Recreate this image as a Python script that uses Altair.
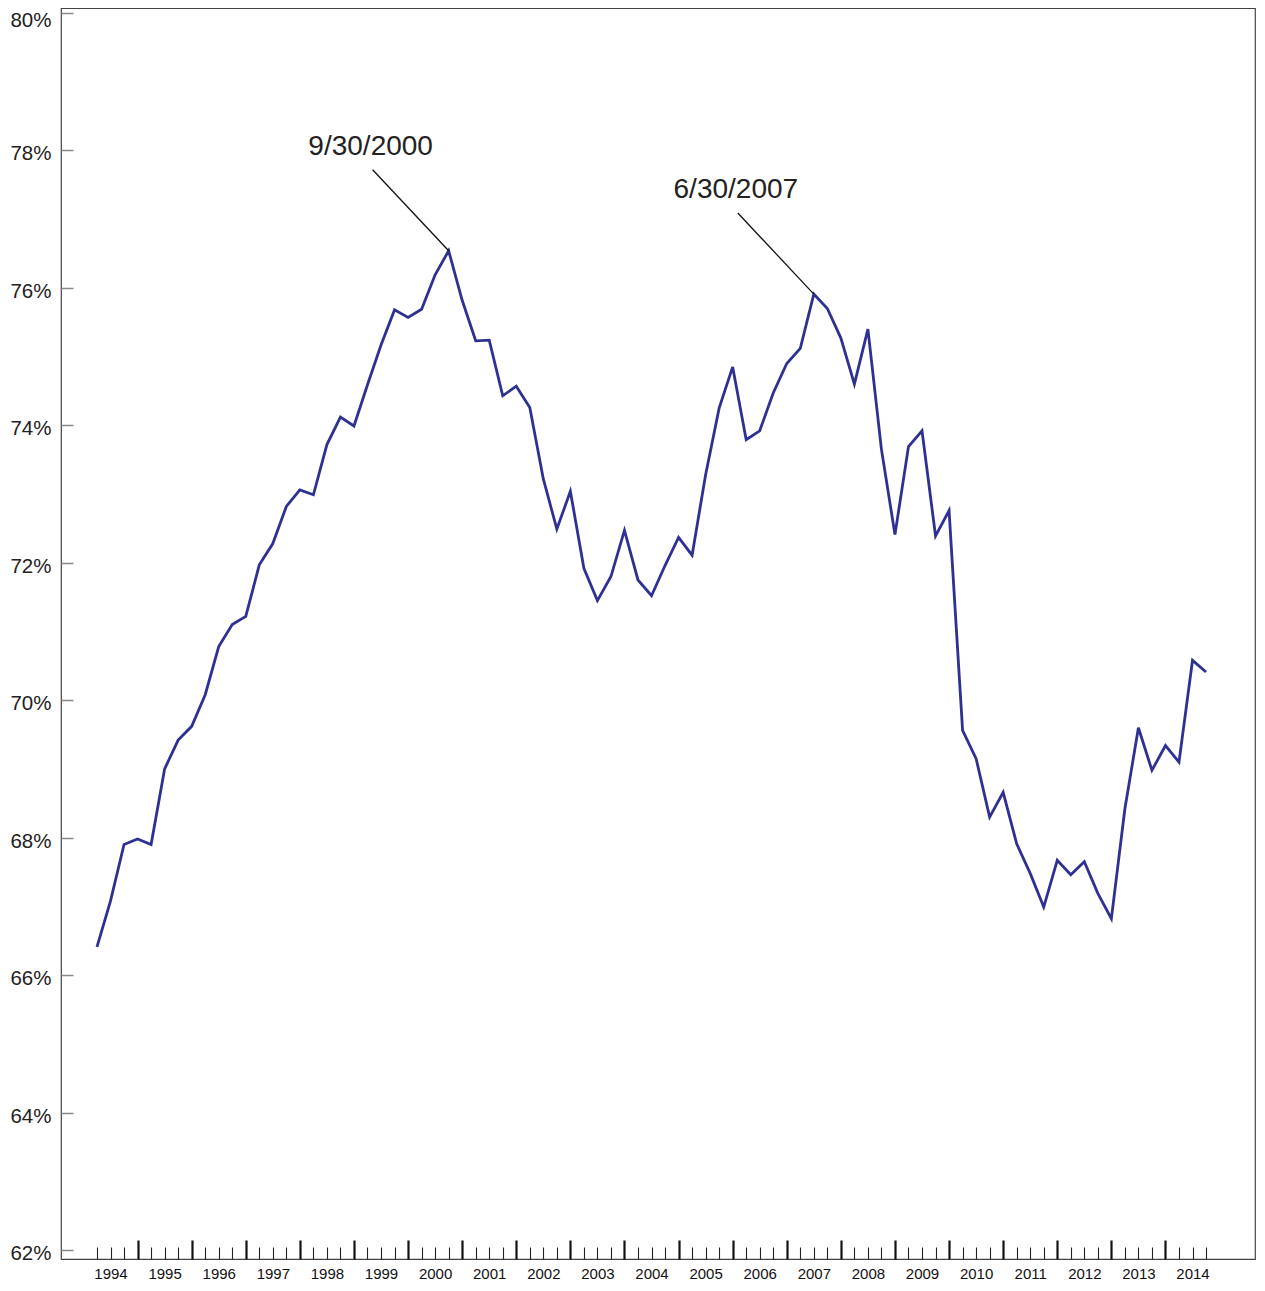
import altair as alt
import pandas as pd

# Quarterly values (%), 3/31/1994 .. 9/30/2014
first_year = 1994
values = [
    66.41, 67.08, 67.90, 67.98,   # 1994
    67.90, 69.00, 69.42, 69.62,   # 1995
    70.08, 70.78, 71.10, 71.22,   # 1996
    71.97, 72.28, 72.82, 73.06,   # 1997
    72.99, 73.72, 74.12, 73.99,   # 1998
    74.59, 75.17, 75.68, 75.57,   # 1999
    75.69, 76.19, 76.54, 75.82,   # 2000
    75.23, 75.24, 74.43, 74.57,   # 2001
    74.26, 73.22, 72.49, 73.04,   # 2002
    71.92, 71.45, 71.80, 72.47,   # 2003
    71.75, 71.52, 71.96, 72.37,   # 2004
    72.11, 73.28, 74.25, 74.85,   # 2005
    73.79, 73.92, 74.47, 74.90,   # 2006
    75.12, 75.91, 75.70, 75.27,   # 2007
    74.60, 75.40, 73.65, 72.41,   # 2008
    73.69, 73.92, 72.39, 72.76,   # 2009
    69.56, 69.15, 68.30, 68.66,   # 2010
    67.91, 67.48, 66.99, 67.67,   # 2011
    67.46, 67.65, 67.19, 66.82,   # 2012
    68.42, 69.60, 68.98, 69.34,   # 2013
    69.10, 70.58, 70.41,          # 2014
]
year_labels = list(range(1994, 2015))
y_tick_values = [62, 64, 66, 68, 70, 72, 74, 76, 78, 80]
annotation_dates = ["9/30/2000", "6/30/2007"]

# decimal time: end of quarter q -> year + q/4
t = [first_year + 0.25 * (i + 1) for i in range(len(values))]
df = pd.DataFrame({"t": t, "v": values})

minor_ticks = [y + f for y in year_labels for f in (0.25, 0.5, 0.75)]
major_ticks = [y for y in year_labels[1:]]
label_pos = [y + 0.5 for y in year_labels]

ann_t = []
ann_v = []
for d in annotation_dates:
    m, dd, yy = (int(p) for p in d.split("/"))
    tt = yy + m / 12.0
    ann_t.append(tt)
    ann_v.append(float(df.loc[(df["t"] - tt).abs().idxmin(), "v"]))
ann = pd.DataFrame({"label": annotation_dates, "t": ann_t, "v": ann_v})
ann["t0"] = ann["t"] - 1.405
ann["v0"] = ann["v"] + 1.18

FONT = "Liberation Sans"
x_scale = alt.Scale(domain=[1993.5846, 2015.655], nice=False, zero=False)
y_scale = alt.Scale(domain=[61.869, 80.0728], nice=False, zero=False)

top_tick = max(y_tick_values)
y_axis = alt.Axis(
    values=y_tick_values, orient="left", offset=-12, tickSize=12, domain=False,
    grid=False, tickColor="#8a8a8a", tickWidth=1.5,
    labelExpr="datum.value + '%'", labelFontSize=20.5, labelFont=FONT,
    labelColor="#222222", labelPadding=10,
    labelOffset=alt.condition(f"datum.value >= {top_tick}", alt.value(7.5), alt.value(3.5)),
    title=None,
)

line = alt.Chart(df).mark_line(color="#2E3192", strokeWidth=2.8).encode(
    x=alt.X("t:Q", scale=x_scale,
            axis=alt.Axis(values=minor_ticks, orient="bottom", offset=-12, tickSize=12,
                          domain=False, labels=False, grid=False,
                          tickColor="#222222", tickWidth=1.1, title=None)),
    y=alt.Y("v:Q", scale=y_scale, axis=y_axis),
)

major = alt.Chart(df).mark_line(strokeOpacity=0).encode(
    x=alt.X("t:Q", scale=x_scale,
            axis=alt.Axis(values=major_ticks, orient="bottom", offset=-19, tickSize=19,
                          domain=False, labels=False, grid=False,
                          tickColor="#111111", tickWidth=2.2, title=None)),
    y=alt.Y("v:Q", scale=y_scale, axis=None),
)

labels = alt.Chart(df).mark_line(strokeOpacity=0).encode(
    x=alt.X("t:Q", scale=x_scale,
            axis=alt.Axis(values=label_pos, orient="bottom", ticks=False, tickSize=0,
                          domain=False, grid=False,
                          labelExpr="toString(floor(datum.value))",
                          labelFontSize=15, labelFont=FONT, labelColor="#111111",
                          labelPadding=7, labelFlush=False, labelOverlap=False,
                          title=None)),
    y=alt.Y("v:Q", scale=y_scale, axis=None),
)

leader = alt.Chart(ann).mark_rule(color="#111111", strokeWidth=1.3).encode(
    x=alt.X("t0:Q", scale=x_scale, axis=None),
    y=alt.Y("v0:Q", scale=y_scale, axis=None),
    x2="t:Q",
    y2="v:Q",
)

ann_text = alt.Chart(ann).mark_text(
    fontSize=28, font=FONT, color="#222222", align="center", baseline="middle",
    dx=-78, dy=-104,
).encode(
    x=alt.X("t:Q", scale=x_scale, axis=None),
    y=alt.Y("v:Q", scale=y_scale, axis=None),
    text="label:N",
)

chart = (
    alt.layer(line, major, labels, leader, ann_text)
    .resolve_axis(x="independent", y="independent")
    .properties(
        width=1194, height=1251,
        autosize=alt.AutoSizeParams(type="none"),
        padding={"left": 53, "top": 0, "right": 2, "bottom": 24},
        background="white",
    )
    .configure_view(stroke="#444444", strokeWidth=1.2)
)

chart.save("out.html", embed_options={"renderer": "svg", "actions": False})
